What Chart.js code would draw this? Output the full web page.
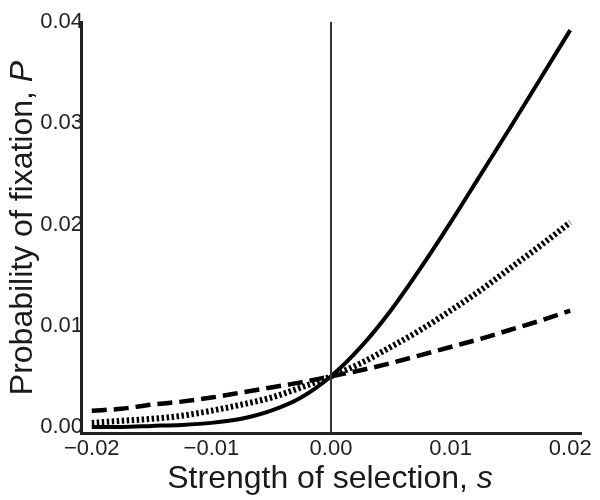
<!DOCTYPE html>
<html>
<head>
<meta charset="utf-8">
<style>
  html, body { margin: 0; padding: 0; background: #fff; }
  #wrap { width: 600px; height: 500px; }
</style>
</head>
<body>
<script src="https://cdn.jsdelivr.net/npm/chart.js/dist/chart.umd.min.js"></script>
<div id="wrap"><canvas id="chartContainer" width="600" height="500"></canvas></div>

<script>
// strength of selection s
const sValues = [-0.02, -0.0175, -0.015, -0.0125, -0.01, -0.0075, -0.005, -0.0025, 0,
                 0.0025, 0.005, 0.0075, 0.01, 0.0125, 0.015, 0.0175, 0.02];
// probability of fixation P
const solidP  = [0.0000, 0.0000, 0.0001, 0.0002, 0.0004, 0.0008, 0.0016, 0.0029, 0.0050,
                 0.0079, 0.0115, 0.0157, 0.0202, 0.0249, 0.0296, 0.0344, 0.0392];
const dottedP = [0.0004, 0.0006, 0.0008, 0.0011, 0.0016, 0.0022, 0.0029, 0.0039, 0.0050,
                 0.0063, 0.0079, 0.0096, 0.0115, 0.0135, 0.0157, 0.0179, 0.0202];
const dashedP = [0.0016, 0.0018, 0.0022, 0.0025, 0.0029, 0.0034, 0.0039, 0.0044, 0.0050,
                 0.0056, 0.0063, 0.0071, 0.0079, 0.0087, 0.0096, 0.0105, 0.0115];
const xTicks = [-0.02, -0.01, 0, 0.01, 0.02];
const yTicks = [0, 0.01, 0.02, 0.03, 0.04];

const FONT = '"Liberation Sans", Arial, sans-serif';
const toPts = arr => arr.map((v, i) => ({ x: sValues[i], y: v }));
const fmt = v => (v < 0 ? '\u2212' : '') + Math.abs(v).toFixed(2);

// draws "text" + italic symbol, centred on 0
function mixedText(ctx, text, sym, cx, y) {
    const normal = '32px ' + FONT;
    const italic = 'italic 32px ' + FONT;
    ctx.font = normal;
    const w1 = ctx.measureText(text).width;
    ctx.font = italic;
    const w2 = ctx.measureText(sym).width;
    const x0 = cx - (w1 + w2) / 2;
    ctx.font = normal;
    ctx.fillText(text, x0, y);
    ctx.font = italic;
    ctx.fillText(sym, x0 + w1, y);
}

// axis titles with italic symbols
const axisTitles = {
    id: 'axisTitles',
    afterDraw(chart) {
        const ctx = chart.ctx;
        ctx.save();
        ctx.fillStyle = '#1a1a1a';
        ctx.textBaseline = 'alphabetic';
        mixedText(ctx, 'Strength of selection, ', 's', 330, 488);
        ctx.translate(32, 228);
        ctx.rotate(-Math.PI / 2);
        mixedText(ctx, 'Probability of fixation, ', 'P', 0, 0);
        ctx.restore();
    }
};

const chart = new Chart('chartContainer', {
    type: 'line',
    data: {
        datasets: [
            {
                label: 'zero',
                data: [{ x: 0, y: -0.0006 }, { x: 0, y: 0.04 }],
                borderColor: '#333',
                borderWidth: 2,
                pointRadius: 0,
                fill: false,
            },
            {
                label: 'dashed',
                data: toPts(dashedP),
                borderColor: '#000',
                borderWidth: 4.5,
                borderDash: [15, 7],
                borderCapStyle: 'butt',
                pointRadius: 0,
                cubicInterpolationMode: 'monotone',
                fill: false,
            },
            {
                label: 'dotted',
                data: toPts(dottedP),
                borderColor: '#000',
                borderWidth: 6,
                borderDash: [2.5, 2.5],
                borderCapStyle: 'butt',
                pointRadius: 0,
                cubicInterpolationMode: 'monotone',
                fill: false,
            },
            {
                label: 'solid',
                data: toPts(solidP),
                borderColor: '#000',
                borderWidth: 4,
                pointRadius: 0,
                cubicInterpolationMode: 'monotone',
                fill: false,
            },
        ],
    },
    options: {
        responsive: false,
        animation: false,
        devicePixelRatio: 1,
        layout: { padding: { top: 22, right: 19, left: 0, bottom: 0 } },
        plugins: { legend: { display: false }, tooltip: { enabled: false } },
        scales: {
            x: {
                type: 'linear',
                min: -0.0209,
                max: 0.0209,
                afterBuildTicks: s => { s.ticks = xTicks.map(v => ({ value: v })); },
                afterFit: s => { s.height = 67; },
                grid: { display: false, drawTicks: false },
                border: { display: true, color: '#222', width: 3 },
                ticks: {
                    autoSkip: false,
                    padding: 3,
                    color: '#222',
                    font: { family: FONT, size: 22 },
                    callback: v => fmt(v),
                    maxRotation: 0,
                },
            },
            y: {
                type: 'linear',
                min: -0.0006,
                max: 0.04,
                afterBuildTicks: s => { s.ticks = yTicks.map(v => ({ value: v })); },
                afterFit: s => { s.width = 81; },
                grid: { display: false, drawTicks: false },
                border: { display: true, color: '#222', width: 3 },
                ticks: {
                    autoSkip: false,
                    padding: -2,
                    color: '#222',
                    font: { family: FONT, size: 22 },
                    callback: v => fmt(v),
                },
            },
        },
    },
    plugins: [axisTitles],
});
</script>
</body>
</html>
